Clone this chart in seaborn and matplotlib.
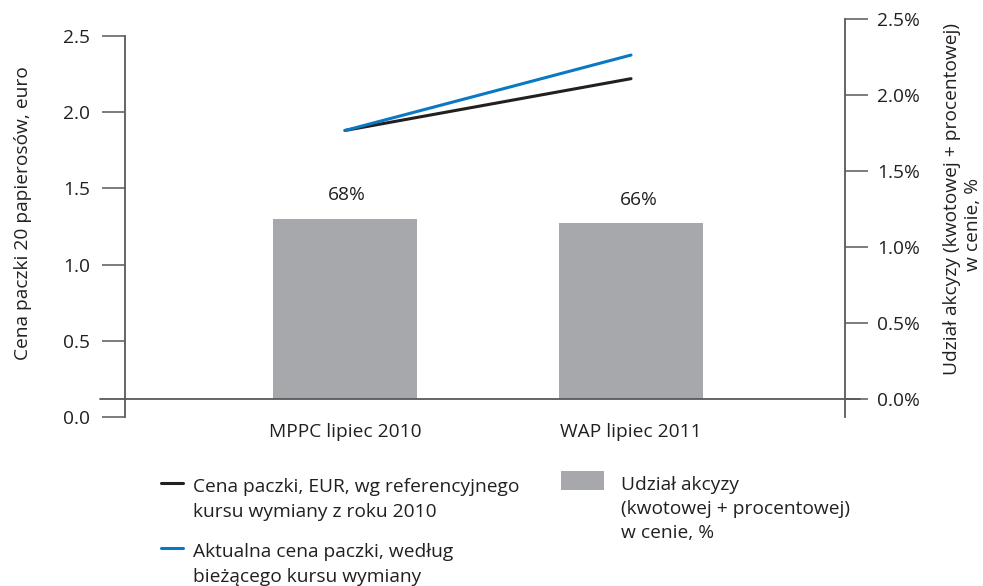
import matplotlib
matplotlib.use("Agg")
import matplotlib.pyplot as plt
import seaborn as sns
import pandas as pd
from matplotlib.lines import Line2D
from matplotlib.patches import Rectangle

# ---- data ----
categories = ["MPPC lipiec 2010", "WAP lipiec 2011"]
price_ref_2010 = [1.88, 2.22]      # black line, EUR
price_current = [1.88, 2.375]      # blue line, EUR
excise_share_bar = [1.185, 1.155]  # bar heights on right axis (%)
excise_share_labels = ["68%", "66%"]
left_ticks = [0.0, 0.5, 1.0, 1.5, 2.0, 2.5]
right_ticks = [0.0, 0.5, 1.0, 1.5, 2.0, 2.5]

series_names = ["Cena paczki, EUR, wg referencyjnego\nkursu wymiany z roku 2010",
                "Aktualna cena paczki, według\nbieżącego kursu wymiany"]
bar_name = "Udział akcyzy\n(kwotowej + procentowej)\nw cenie, %"
left_label = "Cena paczki 20 papierosów, euro"
right_label_lines = ["Udział akcyzy (kwotowej + procentowej)", "w cenie, %"]

# ---- style ----
sns.set_style("white")
FONT = ["Open Sans", "DejaVu Sans"]
plt.rcParams["font.family"] = FONT
FS = 13.8
TXT = "#231F20"
BLACK = "#231F20"
BLUE = "#0A78C3"
GREY = "#A7A8AB"
AX = "#58595B"

W, H = 983, 586
fig = plt.figure(figsize=(W / 100, H / 100), dpi=100)

def fx(x):
    return x / W

def fy(y):
    return 1 - y / H

XL, XR = 125, 845
# right-axis (bars) area: 2.5 at y=19, 0 at y=399
ax_r = fig.add_axes([fx(XL), fy(399), (XR - XL) / W, (399 - 19) / H])
# left-axis (prices) area: 2.5 at y=36, 0 at y=417
ax_l = fig.add_axes([fx(XL), fy(417), (XR - XL) / W, (417 - 36) / H])
ax_l.patch.set_alpha(0)

xlim = (-0.769, 1.748)

df_bar = pd.DataFrame({"cat": categories, "val": excise_share_bar})
sns.barplot(data=df_bar, x="cat", y="val", ax=ax_r, color=GREY,
            saturation=1, width=0.503, edgecolor="none")
ax_r.set_xlim(*xlim)
ax_r.set_ylim(0, 2.5)

for i, (p, lab) in enumerate(zip(ax_r.patches, excise_share_labels)):
    dx = [2, 8][i]
    ax_r.annotate(lab, (p.get_x() + p.get_width() / 2, p.get_height()),
                  xytext=(dx * 0.72, 17), textcoords="offset points",
                  ha="center", va="center", fontsize=FS, color=TXT)

df_line = pd.DataFrame({
    "x": [0, 1, 0, 1],
    "y": price_ref_2010 + price_current,
    "s": [series_names[0]] * 2 + [series_names[1]] * 2,
})
sns.lineplot(data=df_line, x="x", y="y", hue="s", ax=ax_l,
             palette=[BLACK, BLUE], linewidth=2.2, legend=False)
ax_l.set_xlim(*xlim)
ax_l.set_ylim(0, 2.5)

# ---- axes decoration ----
for s in ["top", "bottom", "right"]:
    ax_l.spines[s].set_visible(False)
ax_l.spines["left"].set_color(AX)
ax_l.spines["left"].set_linewidth(1.3)
ax_l.set_yticks(left_ticks)
ax_l.set_yticklabels([f"{v:.1f}" for v in left_ticks])
ax_l.tick_params(axis="y", left=True, direction="out", length=16.5, width=1.1,
                 color=AX, pad=8.5, labelsize=FS, labelcolor=TXT)
ax_l.set_xticks([])
ax_l.set_xlabel("")
ax_l.set_ylabel("")

for s in ["top", "bottom", "left"]:
    ax_r.spines[s].set_visible(False)
ax_r.spines["right"].set_visible(True)
ax_r.spines["right"].set_color(AX)
ax_r.spines["right"].set_linewidth(1.3)
ax_r.spines["right"].set_bounds(-0.118, 2.5)
ax_r.yaxis.tick_right()
ax_r.set_yticks(right_ticks)
ax_r.set_yticklabels([f"{v:.1f}%" for v in right_ticks])
ax_r.tick_params(axis="y", right=True, left=False, direction="out", length=16.5,
                 width=1.1, color=AX, pad=6.5, labelsize=FS, labelcolor=TXT)
ax_r.set_xticks(range(len(categories)))
ax_r.set_xticklabels(categories)
ax_r.tick_params(axis="x", bottom=False, pad=14, labelsize=FS, labelcolor=TXT)
ax_r.set_xlabel("")
ax_r.set_ylabel("")

# horizontal base line
ax_r.plot([(100 - XL) / (XR - XL), (860 - XL) / (XR - XL)], [0, 0],
          transform=ax_r.get_yaxis_transform(), color=AX, lw=1.3, clip_on=False)

# ---- axis titles ----
fig.text(fx(23), fy(213), left_label, rotation=90, ha="center", va="center",
         fontsize=FS, color=TXT)
fig.text(fx(952), fy(199), right_label_lines[0], rotation=90, ha="center",
         va="center", fontsize=FS, color=TXT)
fig.text(fx(973), fy(224), right_label_lines[1], rotation=90, ha="center",
         va="center", fontsize=FS, color=TXT)

# ---- legend (manual) ----
leg_colors = [BLACK, BLUE]
leg_base = [492, 557]
for name, c, yb in zip(series_names, leg_colors, leg_base):
    fig.add_artist(Line2D([fx(161), fx(183)], [fy(yb - 9), fy(yb - 9)],
                          transform=fig.transFigure, color=c, lw=2.2))
    for k, line in enumerate(name.split("\n")):
        fig.text(fx(193), fy(yb + 25 * k), line, ha="left", va="baseline",
                 fontsize=FS, color=TXT)

fig.add_artist(Rectangle((fx(561), fy(490)), (604 - 561) / W, (490 - 471) / H,
                         transform=fig.transFigure, color=GREY, lw=0))
for k, line in enumerate(bar_name.split("\n")):
    fig.text(fx(621), fy(490 + 24 * k), line, ha="left", va="baseline",
             fontsize=FS, color=TXT)

fig.savefig("out.png", dpi=100)
